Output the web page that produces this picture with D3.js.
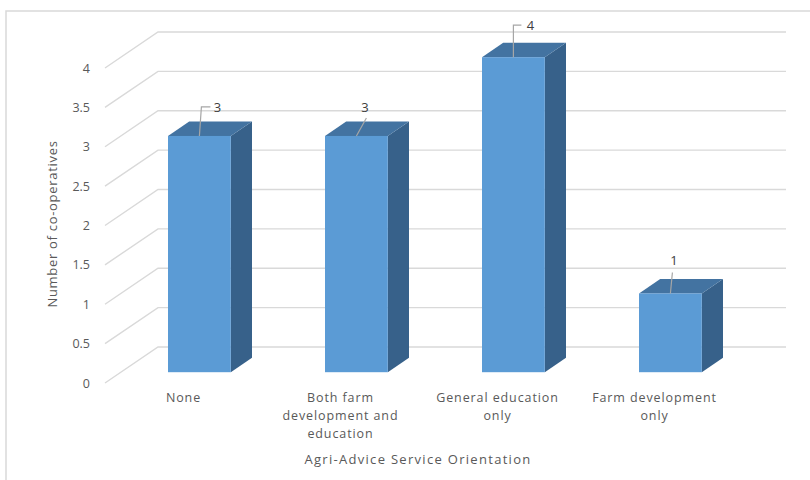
<!DOCTYPE html>
<html>
<head>
<meta charset="utf-8">
<script src="https://cdn.jsdelivr.net/npm/d3@7"></script>
<style>
  html, body { margin: 0; padding: 0; background: #ffffff; }
  svg { display: block; }
  text { font-family: "Open Sans", "DejaVu Sans", sans-serif; }
</style>
</head>
<body>
<svg id="chart" width="810" height="480"></svg>
<script>
// ---- data ----
const categories = ["None", "Both farm development and education", "General education only", "Farm development only"];
const categoryLines = [["None"], ["Both farm", "development and", "education"], ["General education", "only"], ["Farm development", "only"]];
const values = [3, 3, 4, 1];
const yTicks = [0, 0.5, 1, 1.5, 2, 2.5, 3, 3.5, 4];
const yTickLabels = ["0", "0.5", "1", "1.5", "2", "2.5", "3", "3.5", "4"];
const xTitle = "Agri-Advice Service Orientation";
const yTitle = "Number of co-operatives";

// ---- layout / style ----
const svg = d3.select("#chart");
const depthX = 53, depthY = 36;          // floor depth projection
const barFront = 0.3, barBack = 0.7;     // bar depth placement (fraction of floor depth)
const colors = { front: "#5b9bd5", top: "#4373a1", side: "#37618a", grid: "#d9d9d9", text: "#595959", label: "#404040" };

const x = d3.scaleBand().domain(categories).range([105, 733]).paddingInner(0.6).paddingOuter(0.3);
const y = d3.scaleLinear().domain([0, 4]).range([383, 68]);
const P = (px, v, d) => [px + d * depthX, y(v) - d * depthY];

// chart border
svg.append("path").attr("d", "M6,480 V11 H810").attr("fill", "none").attr("stroke", "#d9d9d9").attr("stroke-width", 1.5);

// gridlines (side wall diagonal + back wall)
const g = svg.append("g");
yTicks.forEach(t => {
  const a = P(105, t, 0), b = P(105, t, 1), c = P(733, t, 1);
  g.append("path").attr("d", `M${a}L${b}L${c}`).attr("fill", "none")
    .attr("stroke", colors.grid).attr("stroke-width", 1.4);
});

// tick labels
yTicks.forEach((t, i) => {
  svg.append("text").attr("x", 90).attr("y", y(t) + 4.5).attr("text-anchor", "end")
    .attr("font-size", 12.5).attr("fill", colors.text).text(yTickLabels[i]);
});

// bars
const bars = svg.append("g");
categories.forEach((c, i) => {
  const x0 = x(c), x1 = x(c) + x.bandwidth(), v = values[i];
  const poly = pts => pts.map(p => p.join(",")).join(" ");
  bars.append("polygon").attr("fill", colors.side)
    .attr("points", poly([P(x1, 0, barFront), P(x1, 0, barBack), P(x1, v, barBack), P(x1, v, barFront)]));
  bars.append("polygon").attr("fill", colors.top)
    .attr("points", poly([P(x0, v, barFront), P(x0, v, barBack), P(x1, v, barBack), P(x1, v, barFront)]));
  const f0 = P(x0, v, barFront), f1 = P(x1, 0, barFront);
  bars.append("rect").attr("x", f0[0]).attr("y", f0[1]).attr("width", f1[0] - f0[0]).attr("height", f1[1] - f0[1])
    .attr("fill", colors.front);
});

// data labels with leader lines (offsets relative to bar top front centre)
const leaderOffsets = [
  { pts: [[0, 0], [2, -29], [11, -29]], tx: 18, ty: -29 },
  { pts: [[0, 0], [10, -18]], tx: 8.5, ty: -29 },
  { pts: [[0, 0], [0, -32], [8, -32]], tx: 17, ty: -32 },
  { pts: [[0, 0], [2, -21]], tx: 3.5, ty: -33 }
];
categories.forEach((c, i) => {
  const ctr = P(x(c) + x.bandwidth() / 2, values[i], barFront);
  const o = leaderOffsets[i];
  svg.append("path").attr("d", "M" + o.pts.map(p => [ctr[0] + p[0], ctr[1] + p[1]].join(",")).join("L"))
    .attr("fill", "none").attr("stroke", "#a6a6a6").attr("stroke-width", 1.2);
  svg.append("text").attr("x", ctr[0] + o.tx).attr("y", ctr[1] + o.ty + 5).attr("text-anchor", "middle")
    .attr("font-size", 13).attr("fill", colors.label).text(values[i]);
});

// category labels
categories.forEach((c, i) => {
  const cx = x(c) + x.bandwidth() / 2;
  const t = svg.append("text").attr("text-anchor", "middle").attr("font-size", 12.5)
    .attr("letter-spacing", 0.9).attr("fill", colors.text);
  categoryLines[i].forEach((ln, j) => {
    t.append("tspan").attr("x", cx).attr("y", 402 + j * 18).text(ln);
  });
});

// axis titles
svg.append("text").attr("x", 418).attr("y", 464).attr("text-anchor", "middle")
  .attr("font-size", 13).attr("letter-spacing", 1.3).attr("fill", colors.text).text(xTitle);
svg.append("text").attr("transform", "translate(57,224) rotate(-90)").attr("text-anchor", "middle")
  .attr("font-size", 13).attr("letter-spacing", 0.7).attr("fill", colors.text).text(yTitle);
</script>
</body>
</html>
